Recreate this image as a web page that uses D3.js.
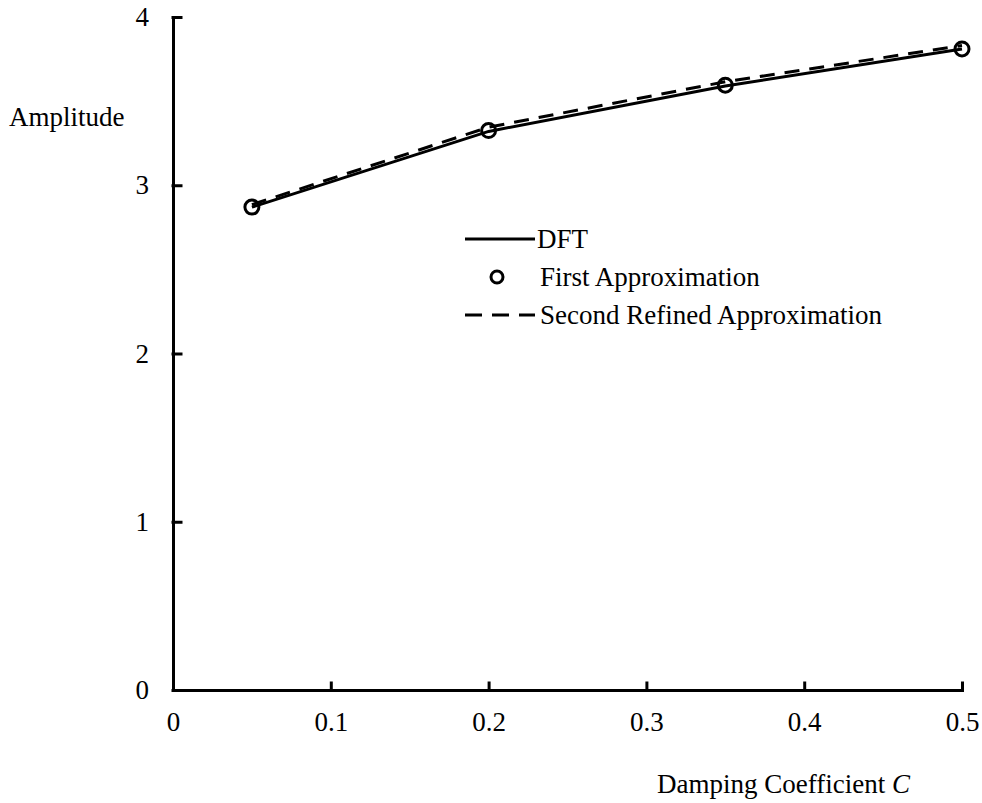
<!DOCTYPE html>
<html>
<head>
<meta charset="utf-8">
<script src="https://cdn.jsdelivr.net/npm/d3@7"></script>
<style>
  body { margin: 0; background: #fff; }
  svg text { font-family: "Liberation Serif", "Times New Roman", serif; fill: #000; }
</style>
</head>
<body>
<svg id="chart" width="982" height="803"></svg>
<script>
// values
var dampingC = [0.05, 0.2, 0.35, 0.5];
var dftAmp = [2.87, 3.32, 3.59, 3.81];
var firstApprox = [2.87, 3.325, 3.595, 3.81];
var secondApprox = [2.885, 3.345, 3.615, 3.83];
var xTicks = [0, 0.1, 0.2, 0.3, 0.4, 0.5];
var yTicks = [0, 1, 2, 3, 4];
var legendNames = ["DFT", "First Approximation", "Second Refined Approximation"];

var fontSize = 27;
var svg = d3.select("#chart");

// scales
var x = d3.scaleLinear().domain([0, 0.5]).range([173, 962]);
var y = d3.scaleLinear().domain([0, 4]).range([690, 17]);

// x axis, ticks pointing in
svg.append("g")
    .attr("transform", "translate(0," + y(0) + ")")
    .call(d3.axisBottom(x)
        .tickValues(xTicks)
        .tickFormat(function(d) { return d === 0 ? "0" : d3.format(".1f")(d); })
        .tickSize(-7)
        .tickSizeOuter(0)
        .tickPadding(22));

// y axis
svg.append("g")
    .attr("transform", "translate(" + x(0) + ",0)")
    .call(d3.axisLeft(y)
        .tickValues(yTicks)
        .tickFormat(d3.format("d"))
        .tickSize(-8)
        .tickSizeOuter(0)
        .tickPadding(24));

svg.selectAll(".domain, .tick line")
    .attr("stroke", "#000")
    .attr("stroke-width", 3)
    .attr("stroke-linecap", "square");
svg.selectAll(".tick text")
    .attr("font-size", fontSize)
    .style("font-family", "'Liberation Serif', 'Times New Roman', serif");

// axis titles
svg.append("text")
    .attr("x", 9)
    .attr("y", 126)
    .attr("font-size", fontSize)
    .text("Amplitude");

var xt = svg.append("text")
    .attr("x", 657)
    .attr("y", 793)
    .attr("font-size", fontSize);
xt.append("tspan").text("Damping Coefficient ");
xt.append("tspan").attr("font-style", "italic").text("C");

// lines
var lineFn = function(vals) {
    return d3.line()
        .x(function(d, i) { return x(dampingC[i]); })
        .y(function(d) { return y(d); })(vals);
};

svg.append("path")
    .attr("d", lineFn(dftAmp))
    .attr("fill", "none")
    .attr("stroke", "#000")
    .attr("stroke-width", 3);

svg.append("path")
    .attr("d", lineFn(secondApprox))
    .attr("fill", "none")
    .attr("stroke", "#000")
    .attr("stroke-width", 3)
    .attr("stroke-dasharray", "15,10");

svg.selectAll(".pt")
    .data(firstApprox)
    .enter().append("circle")
    .attr("class", "pt")
    .attr("cx", function(d, i) { return x(dampingC[i]); })
    .attr("cy", function(d) { return y(d); })
    .attr("r", 7)
    .attr("fill", "none")
    .attr("stroke", "#000")
    .attr("stroke-width", 3);

// legend
var legend = svg.append("g").attr("transform", "translate(465,239)");
var rowGap = 38;

legend.append("line")
    .attr("x1", 0).attr("x2", 70).attr("y1", 0).attr("y2", 0)
    .attr("stroke", "#000").attr("stroke-width", 3);
legend.append("circle")
    .attr("cx", 32).attr("cy", rowGap).attr("r", 6)
    .attr("fill", "none").attr("stroke", "#000").attr("stroke-width", 3);
legend.append("line")
    .attr("x1", 0).attr("x2", 70).attr("y1", rowGap * 2).attr("y2", rowGap * 2)
    .attr("stroke", "#000").attr("stroke-width", 3)
    .attr("stroke-dasharray", "17,10");

legend.selectAll(".lt")
    .data(legendNames)
    .enter().append("text")
    .attr("class", "lt")
    .attr("x", function(d, i) { return i === 0 ? 72 : 75; })
    .attr("y", function(d, i) { return i * rowGap; })
    .attr("dy", "0.33em")
    .attr("font-size", fontSize)
    .text(function(d) { return d; });
</script>
</body>
</html>
